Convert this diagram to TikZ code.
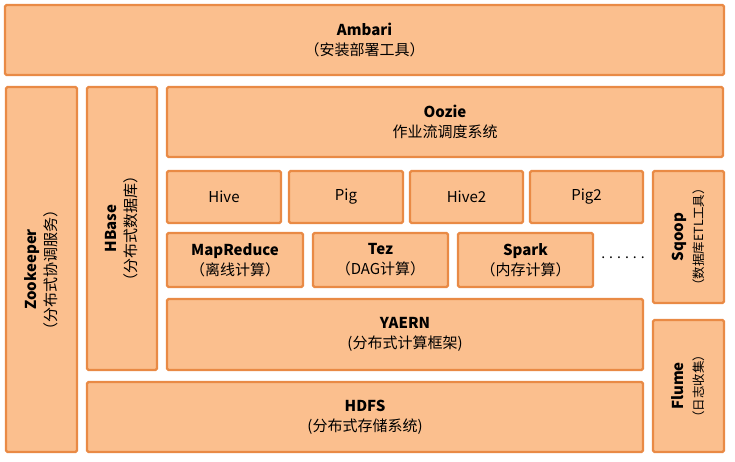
\documentclass[tikz,border=0pt]{standalone}
\usepackage{fontspec}
\setmainfont{Noto Sans CJK SC}
\definecolor{boxfill}{HTML}{FBBF8E}
\definecolor{boxline}{HTML}{E98A45}
\begin{document}
\begin{tikzpicture}[x=1pt,y=-1pt,
  box/.style={draw=boxline,fill=boxfill,line width=2.2pt,rounded corners=1.5pt,
    inner sep=0pt,align=center,font=\fontsize{15}{20}\selectfont},
  vbox/.style={box,rotate=90},
  dots/.style={font=\fontsize{14}{16}\selectfont,inner sep=0pt}]
\useasboundingbox (0,0) rectangle (735,461);
\node[box,minimum width=719pt,minimum height=70pt] (ambari) at (364.5,40) {\textbf{Ambari}\\（安装部署工具）};
\node[vbox,minimum width=365pt,minimum height=71pt] (zk) at (41.5,269.5) {\textbf{Zookeeper}\\（分布式协调服务）};
\node[vbox,minimum width=283pt,minimum height=70pt] (hbase) at (122,228.5) {\textbf{HBase}\\（分布式数据库）};
\node[box,minimum width=556pt,minimum height=70pt] (oozie) at (445,122) {\textbf{Oozie}\\作业流调度系统};
\node[box,minimum width=114pt,minimum height=52pt] (hive) at (224,197) {Hive};
\node[box,minimum width=114pt,minimum height=52pt] (pig) at (346,197) {Pig};
\node[box,minimum width=113pt,minimum height=52pt] (hive2) at (466.5,197) {Hive2};
\node[box,minimum width=113pt,minimum height=52pt] (pig2) at (586.5,197) {Pig2};
\node[box,minimum width=136pt,minimum height=54pt] (mr) at (235,260) {\textbf{MapReduce}\\（离线计算）};
\node[box,minimum width=135pt,minimum height=54pt] (tez) at (380.5,260) {\textbf{Tez}\\（DAG计算）};
\node[box,minimum width=135pt,minimum height=54pt] (spark) at (525.5,260) {\textbf{Spark}\\（内存计算）};
\node[dots] (more) at (623,258) {.\kern4pt.\kern4pt.\kern4pt.\kern4pt.\kern4pt.};
\node[vbox,minimum width=132pt,minimum height=71pt] (sqoop) at (688.5,237) {\textbf{Sqoop}\\{\fontsize{12.5}{16}\selectfont（数据库ETL工具）}};
\node[box,minimum width=476pt,minimum height=71pt] (yarn) at (405,334.5) {\textbf{YAERN}\\(分布式计算框架)};
\node[vbox,minimum width=132pt,minimum height=71pt] (flume) at (688.5,386) {\textbf{Flume}\\{\fontsize{12.5}{16}\selectfont（日志收集）}};
\node[box,minimum width=556pt,minimum height=70pt] (hdfs) at (365,417) {\textbf{HDFS}\\(分布式存储系统)};
\end{tikzpicture}
\end{document}
